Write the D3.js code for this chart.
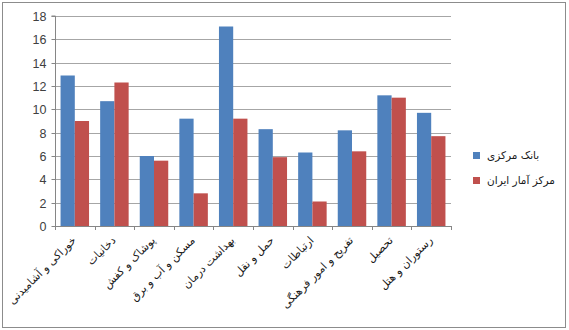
<!DOCTYPE html>
<html><head><meta charset="utf-8">
<script src="https://cdn.jsdelivr.net/npm/d3@7"></script>
<style>body{margin:0;background:#fff}svg{display:block}</style>
</head><body><svg id="c" width="569" height="330"></svg>
<script>
const categories = ["خوراکی و آشامیدنی","دخانیات","پوشاک و کفش","مسکن و آب و برق","بهداشت  درمان","حمل و نقل","ارتباطات","تفریح و امور فرهنگی","تحصیل","رستوران و هتل"];
const seriesNames = ["بانک مرکزی","مرکز آمار ایران"];
const bankValues = [12.9,10.7,6.0,9.2,17.1,8.3,6.3,8.2,11.2,9.7];
const statValues = [9.0,12.3,5.6,2.8,9.2,5.9,2.1,6.4,11.0,7.7];
const yTicks = [0,2,4,6,8,10,12,14,16,18];
const colors = ["#4f81bd","#c0504d"];

const svg = d3.select("#c");
svg.append("rect").attr("x",2.5).attr("y",2.5).attr("width",563).attr("height",325)
  .attr("fill","#fff").attr("stroke","#8c8c8c").attr("stroke-width",1);

const m = {l:55,r:451,t:16,b:226};
const x = d3.scaleBand().domain(categories).range([m.l,m.r]).paddingInner(0).paddingOuter(0);
const x1 = d3.scaleBand().domain([0,1]).range([0,x.bandwidth()]).paddingOuter(0.39).paddingInner(0);
const y = d3.scaleLinear().domain([0,18]).range([m.b,m.t]);

// gridlines
svg.append("g").selectAll("line").data(yTicks.filter(d=>d>0)).join("line")
  .attr("x1",m.l).attr("x2",m.r).attr("y1",d=>Math.round(y(d))+0.5).attr("y2",d=>Math.round(y(d))+0.5)
  .attr("stroke","#a6a6a6").attr("stroke-width",1);

// bars
const data = categories.map((c,i)=>({c,v:[bankValues[i],statValues[i]]}));
const g = svg.append("g").selectAll("g").data(data).join("g").attr("transform",d=>`translate(${x(d.c)},0)`);
g.selectAll("rect").data(d=>d.v.map((v,k)=>({v,k}))).join("rect")
  .attr("x",d=>x1(d.k)).attr("width",x1.bandwidth())
  .attr("y",d=>y(d.v)).attr("height",d=>y(0)-y(d.v))
  .attr("fill",d=>colors[d.k]);

// y axis
const ya = svg.append("g").attr("transform",`translate(${m.l+0.5},0)`)
  .call(d3.axisLeft(y).tickValues(yTicks).tickSize(4).tickPadding(5).tickFormat(d3.format("d")));
ya.select(".domain").attr("stroke","#868686").attr("d",`M-4,${m.t}H0V${m.b}`);
ya.selectAll(".tick line").attr("stroke","#868686");
ya.selectAll(".tick text").attr("font-family","Liberation Sans, Arial, sans-serif").attr("font-size","12.5px").attr("fill","#404040");
ya.selectAll(".tick").attr("transform",d=>`translate(0,${Math.round(y(d))+0.5})`);

// x axis
const xa = svg.append("g").attr("transform",`translate(0,${m.b+0.5})`)
  .call(d3.axisBottom(x).tickSize(0).tickFormat(""));
xa.select(".domain").attr("stroke","#868686").attr("d",`M${m.l},0H${m.r}`);
svg.append("g").selectAll("line").data(categories.map((c,i)=>i).concat([categories.length])).join("line")
  .attr("x1",i=>Math.round(m.l+i*x.step())+0.5).attr("x2",i=>Math.round(m.l+i*x.step())+0.5)
  .attr("y1",m.b).attr("y2",m.b+4).attr("stroke","#868686");

svg.append("g").selectAll("text").data(categories).join("text")
  .attr("transform",d=>`translate(${x(d)+x.bandwidth()/2+2},${m.b+15}) rotate(-45)`)
  .attr("text-anchor","end").attr("font-family","DejaVu Sans, sans-serif").attr("font-size","11px")
  .attr("fill","#1a1a1a").text(d=>d);

// legend
const lg = svg.append("g").selectAll("g").data(seriesNames).join("g")
  .attr("transform",(d,i)=>`translate(473,${152+i*25})`);
lg.append("rect").attr("width",7).attr("height",7).attr("fill",(d,i)=>colors[i]);
lg.append("text").attr("x",14).attr("y",7).attr("font-family","DejaVu Sans, sans-serif").attr("font-size","10.5px")
  .attr("fill","#1a1a1a").text(d=>d);
</script></body></html>
